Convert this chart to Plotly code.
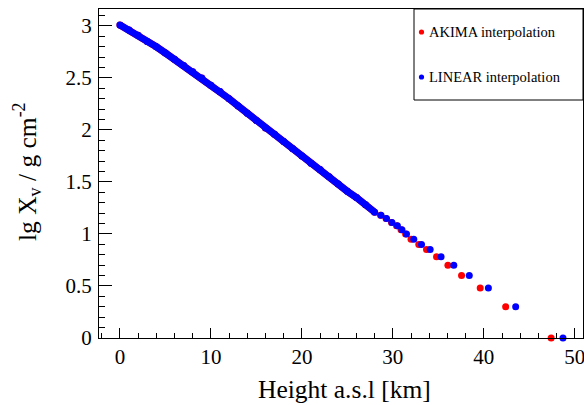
import plotly.graph_objects as go

# ---- data ----
# dense part of the profile (height in km, lg of vertical depth)
dense_height = [0, 1, 2, 3, 4, 5, 6, 7, 8, 9, 10, 11, 12, 13, 14, 15, 16, 17, 18, 19,
                20, 21, 22, 23, 24, 25, 26, 27, 28]
dense_lgx = [3.01, 2.96, 2.91, 2.85, 2.80, 2.74, 2.68, 2.62, 2.56, 2.50, 2.43, 2.37,
             2.30, 2.23, 2.16, 2.09, 2.02, 1.96, 1.89, 1.82, 1.75, 1.68, 1.62, 1.55,
             1.48, 1.41, 1.35, 1.28, 1.21]

# sparse upper points
linear_height = [28.7, 29.3, 29.9, 30.5, 31.0, 31.5, 32.3, 33.15, 34.1, 35.3, 36.7,
                 38.4, 40.5, 43.5, 48.7]
akima_height = [28.65, 29.25, 29.85, 30.4, 30.9, 31.4, 32.0, 32.85, 33.7, 34.8, 36.05,
                37.55, 39.6, 42.4, 47.4]
sparse_lgx = [1.18, 1.15, 1.11, 1.08, 1.04, 1.00, 0.95, 0.90, 0.85, 0.78, 0.70,
              0.60, 0.48, 0.30, 0.00]

series_names = ["AKIMA interpolation", "LINEAR interpolation"]
series_colors = ["#ff0000", "#0000ff"]

x_title = "Height a.s.l [km]"
y_title = "lg X<sub>v</sub> / g cm<sup>-2</sup>"

FONT = "Liberation Serif"

fig = go.Figure()

for name, color, sh in [(series_names[0], series_colors[0], akima_height),
                        (series_names[1], series_colors[1], linear_height)]:
    # dense band
    fig.add_trace(go.Scatter(x=dense_height, y=dense_lgx, mode="lines+markers",
                             line=dict(color=color, width=7),
                             marker=dict(color=color, size=7, line=dict(width=0)),
                             cliponaxis=False, showlegend=False, name=name,
                             hoverinfo="skip"))
    # sparse points
    fig.add_trace(go.Scatter(x=sh, y=sparse_lgx, mode="markers",
                             marker=dict(color=color, size=7, line=dict(width=0)),
                             cliponaxis=False, showlegend=False, name=name,
                             hoverinfo="skip"))

W, H = 584, 405
ml, mr, mt, mb = 99, 1, 9, 67
pw, ph = W - ml - mr, H - mt - mb

def px(xp):
    return (xp - ml) / pw

def py(yp):
    return (H - mb - yp) / ph

shapes = [
    dict(type="rect", xref="paper", yref="paper", x0=px(414), x1=px(583), y0=py(100), y1=py(9),
         line=dict(color="black", width=1), fillcolor="white", layer="above"),
]
annotations = []
for i, (name, color) in enumerate(zip(series_names, series_colors)):
    yc = 32 + 45 * i
    shapes.append(dict(type="circle", xref="paper", yref="paper",
                       xsizemode="pixel", ysizemode="pixel",
                       xanchor=px(421.5), yanchor=py(yc),
                       x0=-2.6, x1=2.6, y0=-2.6, y1=2.6,
                       fillcolor=color, line=dict(width=0), layer="above"))
    annotations.append(dict(text=name, xref="paper", yref="paper", x=px(427), y=py(yc),
                            xanchor="left", yanchor="middle", showarrow=False,
                            font=dict(family=FONT, size=14.5, color="black")))

# axis titles
annotations.append(dict(text=x_title, xref="paper", yref="paper", x=px(344), y=py(389),
                        xanchor="center", yanchor="middle", showarrow=False,
                        font=dict(family=FONT, size=25.5, color="black")))
annotations.append(dict(text=y_title, xref="paper", yref="paper", x=px(27), y=py(172),
                        xanchor="center", yanchor="middle", showarrow=False, textangle=-90,
                        font=dict(family=FONT, size=25.5, color="black")))

fig.update_layout(
    width=W, height=H,
    margin=dict(l=ml, r=mr, t=mt, b=mb),
    paper_bgcolor="white", plot_bgcolor="white",
    font=dict(family=FONT, color="black"),
    shapes=shapes, annotations=annotations,
    hovermode=False,
    xaxis=dict(range=[-2.3, 50.9], dtick=10, tick0=0, ticks="inside", ticklen=10,
               tickwidth=1, tickcolor="black", automargin=False,
               ticklabeloverflow="allow",
               minor=dict(ticks="inside", dtick=2, ticklen=5, tickcolor="black"),
               showgrid=False, zeroline=False, showline=True, linecolor="black",
               linewidth=1, mirror=True, tickfont=dict(family=FONT, size=21)),
    yaxis=dict(range=[0, 3.163], dtick=0.5, tick0=0, ticks="inside", ticklen=13,
               tickwidth=1, tickcolor="black", automargin=False,
               ticklabeloverflow="allow",
               minor=dict(ticks="inside", dtick=0.1, ticklen=6, tickcolor="black"),
               showgrid=False, zeroline=False, showline=True, linecolor="black",
               linewidth=1, mirror=True, tickfont=dict(family=FONT, size=21),
               ticklabelstandoff=2),
)

fig.write_html("out.html", config={"displayModeBar": False, "staticPlot": True},
               post_script="document.body.style.margin='0px';document.body.style.overflow='hidden';")
